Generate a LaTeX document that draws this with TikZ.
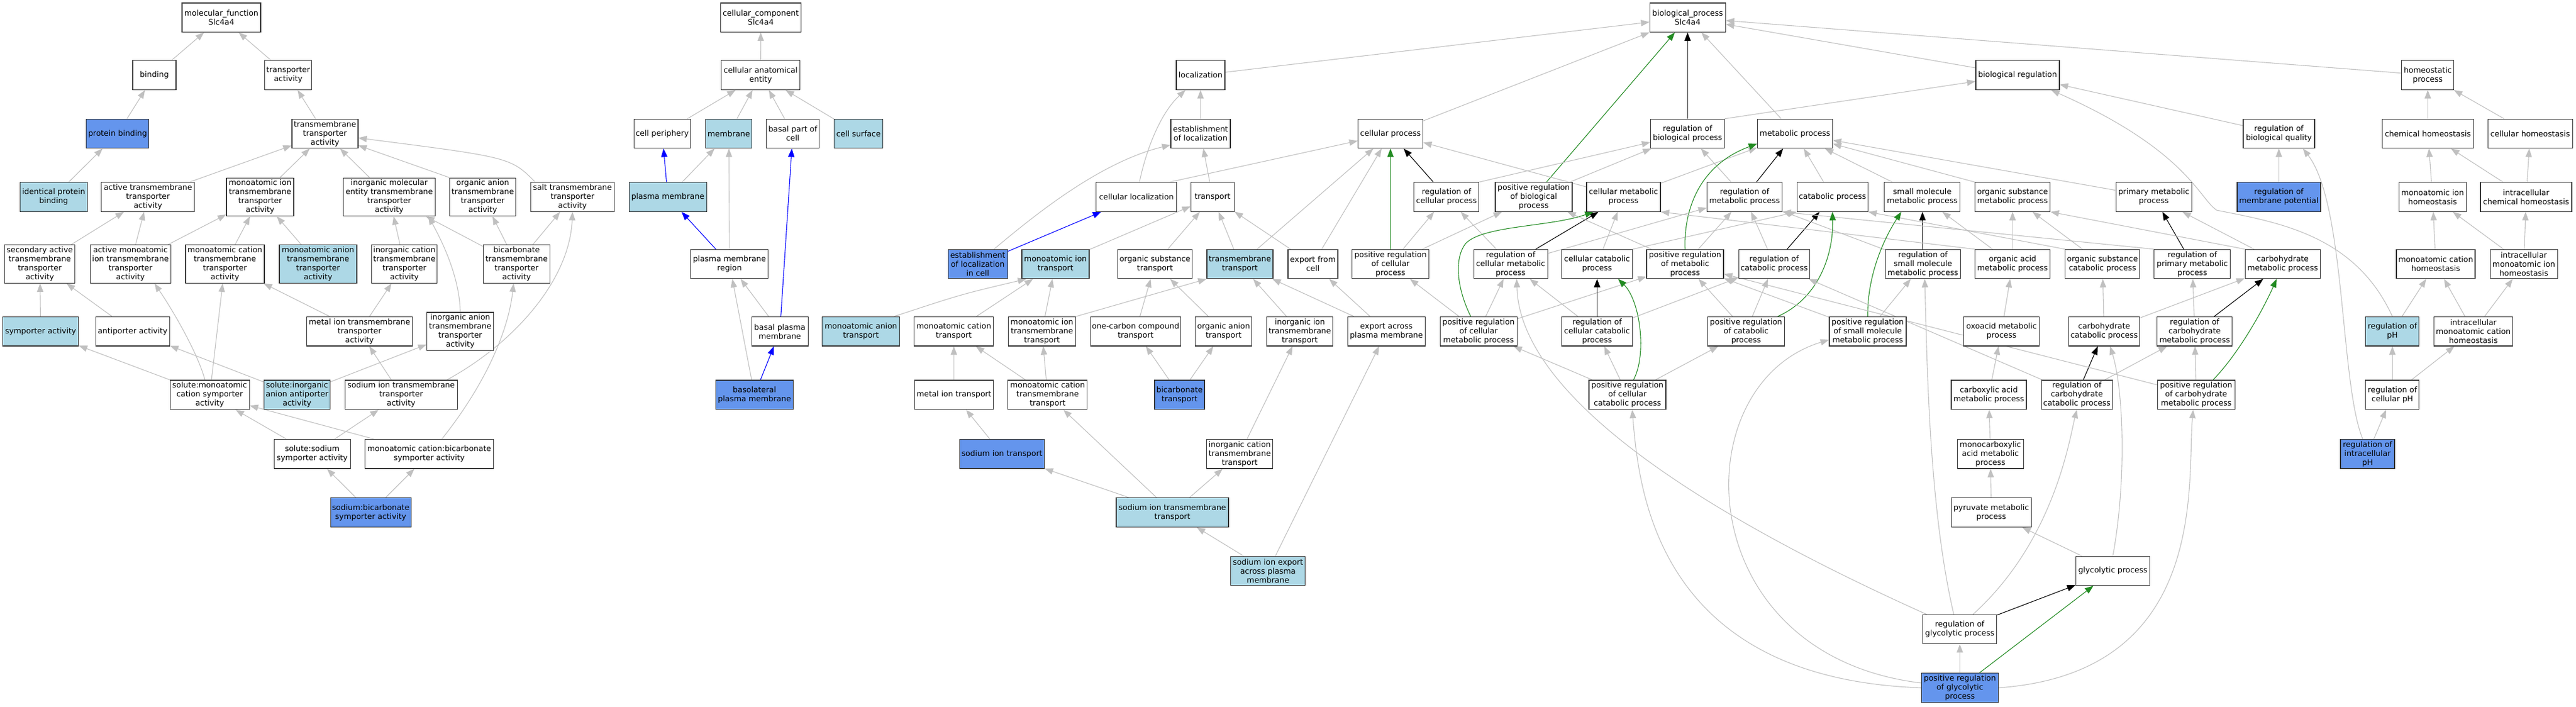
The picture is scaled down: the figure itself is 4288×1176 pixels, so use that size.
\documentclass[tikz,border=0pt]{standalone}
\usepackage{fontspec}
\setmainfont{DejaVu Sans}
\usetikzlibrary{arrows.meta,backgrounds,calc}
\definecolor{lblue}{HTML}{ADD8E6}
\definecolor{cblue}{HTML}{6495ED}
\definecolor{egray}{HTML}{C0C0C0}
\definecolor{fgreen}{HTML}{228B22}
\begin{document}
\begin{tikzpicture}[x=1pt,y=-1pt,
 gbox/.style={draw=black!80, line width=1.2pt, fill=white, minimum height=48.5pt, inner xsep=1.5pt, inner ysep=3pt, align=center, font=\fontsize{12.9}{15}\selectfont},
 gboxl/.style={gbox, fill=lblue},
 gboxc/.style={gbox, fill=cblue},
 gedge/.style={draw=egray, line width=1.1pt, -{Triangle[length=14pt,width=10.5pt]}},
 kedge/.style={gedge, draw=black},
 bedge/.style={gedge, draw=blue},
 fedge/.style={gedge, draw=fgreen}]
\useasboundingbox (0,0) rectangle (4288,1176);
% ---------------- molecular function ----------------
\node[gbox,minimum width=131] (mf) at (368.5,29.3) {molecular\_function\\Slc4a4};
\node[gbox,minimum width=72] (binding) at (256.9,125.1) {binding};
\node[gbox,minimum width=78] (ta) at (479.8,125.1) {transporter\\activity};
\node[gboxc,minimum width=104] (pb) at (195.8,222.5) {protein binding};
\node[gbox,minimum width=110] (tmta) at (540.9,222.5) {transmembrane\\transporter\\activity};
\node[gboxl,minimum width=112] (ipb) at (89.3,327.9) {identical protein\\binding};
\node[gbox,minimum width=155] (atmta) at (246.3,327.9) {active transmembrane\\transporter\\activity};
\node[gbox,minimum width=112] (mitmta) at (433,327.9) {monoatomic ion\\transmembrane\\transporter\\activity};
\node[gbox,minimum width=153] (imetmta) at (647.9,327.9) {inorganic molecular\\entity transmembrane\\transporter\\activity};
\node[gbox,minimum width=110] (oatmta) at (803.6,327.9) {organic anion\\transmembrane\\transporter\\activity};
\node[gbox,minimum width=139] (salt) at (953,327.9) {salt transmembrane\\transporter\\activity};
\node[gbox,minimum width=117] (sec) at (66.3,439.6) {secondary active\\transmembrane\\transporter\\activity};
\node[gbox,minimum width=134] (ami) at (217.2,439.6) {active monoatomic\\ion transmembrane\\transporter\\activity};
\node[gbox,minimum width=131] (mctmta) at (374.4,439.6) {monoatomic cation\\transmembrane\\transporter\\activity};
\node[gboxl,minimum width=129] (matmta) at (529.4,439.6) {monoatomic anion\\transmembrane\\transporter\\activity};
\node[gbox,minimum width=109] (ictmta) at (673.2,439.6) {inorganic cation\\transmembrane\\transporter\\activity};
\node[gbox,minimum width=111] (bictmta) at (859.9,439.6) {bicarbonate\\transmembrane\\transporter\\activity};
\node[gboxl,minimum width=126] (sym) at (67.7,551.7) {symporter activity};
\node[gbox,minimum width=123] (anti) at (220.8,551.7) {antiporter activity};
\node[gbox,minimum width=176] (metaltmta) at (598.5,551.7) {metal ion transmembrane\\transporter\\activity};
\node[gbox,minimum width=111] (iatmta) at (766.1,551.7) {inorganic anion\\transmembrane\\transporter\\activity};
\node[gbox,minimum width=132] (smcs) at (349.1,657.3) {solute:monoatomic\\cation symporter\\activity};
\node[gboxl,minimum width=110] (siaa) at (494.5,657.3) {solute:inorganic\\anion antiporter\\activity};
\node[gbox,minimum width=187] (sitmta) at (667.7,657.3) {sodium ion transmembrane\\transporter\\activity};
\node[gbox,minimum width=127] (sss) at (519.7,755.7) {solute:sodium\\symporter activity};
\node[gbox,minimum width=214] (mcbs) at (714.5,755.7) {monoatomic cation:bicarbonate\\symporter activity};
\node[gboxc,minimum width=134] (sbs) at (617.1,853.1) {sodium:bicarbonate\\symporter activity};
% ---------------- cellular component ----------------
\node[gbox,minimum width=134] (cc) at (1266.4,29.3) {cellular\_component\\Slc4a4};
\node[gbox,minimum width=131] (cae) at (1266.2,125.1) {cellular anatomical\\entity};
\node[gbox,minimum width=94] (cper) at (1102.3,222.5) {cell periphery};
\node[gboxl,minimum width=77] (memb) at (1213.2,222.5) {membrane};
\node[gbox,minimum width=88] (bpc) at (1319.7,222.5) {basal part of\\cell};
\node[gboxl,minimum width=81] (csurf) at (1429,222.5) {cell surface};
\node[gboxl,minimum width=129] (pm) at (1111.7,327.9) {plasma membrane};
\node[gbox,minimum width=129] (pmr) at (1214.3,439.6) {plasma membrane\\region};
\node[gbox,minimum width=94] (bpm) at (1298.1,551.7) {basal plasma\\membrane};
\node[gboxc,minimum width=129] (blpm) at (1255.9,657.3) {basolateral\\plasma membrane};
% ---------------- biological process ----------------
\node[gbox,minimum width=126] (bp) at (2809.2,29.3) {biological\_process\\Slc4a4};
\node[gbox,minimum width=81] (loc) at (1998.4,125.1) {localization};
\node[gbox,minimum width=139] (breg) at (3358.4,125.1) {biological regulation};
\node[gbox,minimum width=87] (homeo) at (4041.2,125.1) {homeostatic\\process};
\node[gbox,minimum width=99] (estloc) at (1998.4,222.5) {establishment\\of localization};
\node[gbox,minimum width=108] (cproc) at (2314.6,222.5) {cellular process};
\node[gbox,minimum width=123] (rbp) at (2809,222.5) {regulation of\\biological process};
\node[gbox,minimum width=125] (metab) at (2987.9,222.5) {metabolic process};
\node[gbox,minimum width=119] (rbq) at (3793.4,222.5) {regulation of\\biological quality};
\node[gbox,minimum width=152] (chomeo) at (4041.4,222.5) {chemical homeostasis};
\node[gbox,minimum width=141] (cellhomeo) at (4211.7,222.5) {cellular homeostasis};
\node[gbox,minimum width=134] (cloc) at (1891.7,327.9) {cellular localization};
\node[gbox,minimum width=72] (transp) at (2018.4,327.9) {transport};
\node[gbox,minimum width=108] (rcp) at (2407.8,327.9) {regulation of\\cellular process};
\node[gbox,minimum width=128] (prbp) at (2553,327.9) {positive regulation\\of biological\\process};
\node[gbox,minimum width=123] (cmp) at (2702.4,327.9) {cellular metabolic\\process};
\node[gbox,minimum width=125] (rmp) at (2904,327.9) {regulation of\\metabolic process};
\node[gbox,minimum width=118] (catab) at (3050.3,327.9) {catabolic process};
\node[gbox,minimum width=126] (smmp) at (3199.8,327.9) {small molecule\\metabolic process};
\node[gbox,minimum width=125] (osmp) at (3350.1,327.9) {organic substance\\metabolic process};
\node[gbox,minimum width=126] (pmp) at (3585.2,327.9) {primary metabolic\\process};
\node[gboxc,minimum width=139] (rmpot) at (3793.4,327.9) {regulation of\\membrane potential};
\node[gbox,minimum width=112] (mih) at (4049.2,327.9) {monoatomic ion\\homeostasis};
\node[gbox,minimum width=152] (ich) at (4205,327.9) {intracellular\\chemical homeostasis};
\node[gboxc,minimum width=99] (elic) at (1627.6,439.6) {establishment\\of localization\\in cell};
\node[gboxl,minimum width=112] (mit) at (1756.9,439.6) {monoatomic ion\\transport};
\node[gbox,minimum width=124] (ost) at (1922.5,439.6) {organic substance\\transport};
\node[gboxl,minimum width=110] (tmt) at (2063.9,439.6) {transmembrane\\transport};
\node[gbox,minimum width=83] (efc) at (2185.4,439.6) {export from\\cell};
\node[gbox,minimum width=128] (prcp) at (2314.6,439.6) {positive regulation\\of cellular\\process};
\node[gbox,minimum width=123] (rcmp) at (2514.6,439.6) {regulation of\\cellular metabolic\\process};
\node[gbox,minimum width=118] (ccp) at (2658.5,439.6) {cellular catabolic\\process};
\node[gbox,minimum width=128] (prmp) at (2805,439.6) {positive regulation\\of metabolic\\process};
\node[gbox,minimum width=118] (rcatab) at (2953.2,439.6) {regulation of\\catabolic process};
\node[gbox,minimum width=125] (rsmmp) at (3200.9,439.6) {regulation of\\small molecule\\metabolic process};
\node[gbox,minimum width=125] (oamp) at (3350.1,439.6) {organic acid\\metabolic process};
\node[gbox,minimum width=124] (oscp) at (3499.7,439.6) {organic substance\\catabolic process};
\node[gbox,minimum width=127] (rprmp) at (3649.3,439.6) {regulation of\\primary metabolic\\process};
\node[gbox,minimum width=125] (cmpr) at (3799.7,439.6) {carbohydrate\\metabolic process};
\node[gbox,minimum width=131] (mch) at (4054.5,439.6) {monoatomic cation\\homeostasis};
\node[gbox,minimum width=112] (imih) at (4201.1,439.6) {intracellular\\monoatomic ion\\homeostasis};
\node[gboxl,minimum width=129] (mat) at (1433.1,551.7) {monoatomic anion\\transport};
\node[gbox,minimum width=132] (mct) at (1587.7,551.7) {monoatomic cation\\transport};
\node[gbox,minimum width=112] (mitt) at (1734.4,551.7) {monoatomic ion\\transmembrane\\transport};
\node[gbox,minimum width=150] (occt) at (1890.3,551.7) {one-carbon compound\\transport};
\node[gbox,minimum width=94] (oat) at (2036.8,551.7) {organic anion\\transport};
\node[gbox,minimum width=110] (iitt) at (2163.7,551.7) {inorganic ion\\transmembrane\\transport};
\node[gbox,minimum width=129] (eapm) at (2307.8,551.7) {export across\\plasma membrane};
\node[gbox,minimum width=128] (prcmp) at (2461.2,551.7) {positive regulation\\of cellular\\metabolic process};
\node[gbox,minimum width=118] (rccp) at (2658.5,551.7) {regulation of\\cellular catabolic\\process};
\node[gbox,minimum width=128] (prcatab) at (2906.5,551.7) {positive regulation\\of catabolic\\process};
\node[gbox,minimum width=128] (prsmmp) at (3109,551.7) {positive regulation\\of small molecule\\metabolic process};
\node[gbox,minimum width=126] (oxo) at (3331.7,551.7) {oxoacid metabolic\\process};
\node[gbox,minimum width=118] (ccatab) at (3502.5,551.7) {carbohydrate\\catabolic process};
\node[gbox,minimum width=125] (rcarbmp) at (3653.2,551.7) {regulation of\\carbohydrate\\metabolic process};
\node[gboxl,minimum width=89] (rph) at (3982.3,551.7) {regulation of\\pH};
\node[gbox,minimum width=131] (imch) at (4117.1,551.7) {intracellular\\monoatomic cation\\homeostasis};
\node[gbox,minimum width=131] (mitr) at (1588,657.3) {metal ion transport};
\node[gbox,minimum width=132] (mctt) at (1743.8,657.3) {monoatomic cation\\transmembrane\\transport};
\node[gboxc,minimum width=83] (bict) at (1963.5,657.3) {bicarbonate\\transport};
\node[gbox,minimum width=128] (prccp) at (2709,657.3) {positive regulation\\of cellular\\catabolic process};
\node[gbox,minimum width=125] (cxa) at (3310.5,657.3) {carboxylic acid\\metabolic process};
\node[gbox,minimum width=118] (rccatab) at (3457.1,657.3) {regulation of\\carbohydrate\\catabolic process};
\node[gbox,minimum width=129] (prcarbmp) at (3655.7,657.3) {positive regulation\\of carbohydrate\\metabolic process};
\node[gbox,minimum width=89] (rcph) at (3982.3,657.3) {regulation of\\cellular pH};
\node[gboxc,minimum width=141] (sit) at (1667.8,755.7) {sodium ion transport};
\node[gbox,minimum width=110] (ictt) at (2063.6,755.7) {inorganic cation\\transmembrane\\transport};
\node[gbox,minimum width=110] (mca) at (3313.2,755.7) {monocarboxylic\\acid metabolic\\process};
\node[gboxc,minimum width=90] (ripH) at (3941,755.7) {regulation of\\intracellular\\pH};
\node[gboxl,minimum width=187] (sitt) at (1951.5,853.1) {sodium ion transmembrane\\transport};
\node[gbox,minimum width=133] (pyr) at (3314.6,853.1) {pyruvate metabolic\\process};
\node[gboxl,minimum width=124] (siex) at (2110.7,950.4) {sodium ion export\\across plasma\\membrane};
\node[gbox,minimum width=123] (glyc) at (3517,950.4) {glycolytic process};
\node[gbox,minimum width=123] (rglyc) at (3262.2,1047.6) {regulation of\\glycolytic process};
\node[gboxc,minimum width=128] (prglyc) at (3262.4,1145) {positive regulation\\of glycolytic\\process};
% ---------------- edges ----------------
\begin{pgfonlayer}{background}
\fill[white] (0,0) rectangle (4288,1176);
% MF
\draw[gedge] (binding) -- (mf);
\draw[gedge] (ta) -- (mf);
\draw[gedge] (pb) -- (binding);
\draw[gedge] (ipb) -- (pb);
\draw[gedge] (tmta) -- (ta);
\draw[gedge] (atmta) -- (tmta);
\draw[gedge] (mitmta) -- (tmta);
\draw[gedge] (imetmta) -- (tmta);
\draw[gedge] (oatmta.north west) -- (tmta);
\draw[gedge] ($(salt.north west)+(8,0)$) .. controls (850,262) .. (tmta);
\draw[gedge] (sec) -- (atmta);
\draw[gedge] (ami) -- (atmta);
\draw[gedge] (ami) -- (mitmta);
\draw[gedge] (mctmta) -- (mitmta);
\draw[gedge] (matmta) -- (mitmta);
\draw[gedge] (ictmta) -- (imetmta);
\draw[gedge] (bictmta) -- (imetmta);
\draw[gedge] (iatmta.north) .. controls (765,460) and (735,400) .. ($(imetmta.south east)+(-12,0)$);
\draw[gedge] (bictmta) -- (oatmta);
\draw[gedge] (bictmta) -- (salt);
\draw[gedge] (sym) -- (sec);
\draw[gedge] (anti) -- (sec);
\draw[gedge] (metaltmta) -- (mctmta);
\draw[gedge] (metaltmta) -- (ictmta);
\draw[gedge] (smcs) -- (sym);
\draw[gedge] ($(smcs.north)+(-8,0)$) .. controls (330,590) and (290,520) .. ($(ami.south)+(40,0)$);
\draw[gedge] (smcs) -- (mctmta);
\draw[gedge] (siaa) -- (anti);
\draw[gedge] (siaa) -- (iatmta);
\draw[gedge] (sitmta) -- (metaltmta);
\draw[gedge] ($(sitmta.north east)+(-18,0)$) .. controls (850,575) and (948,470) .. (salt.south);
\draw[gedge] (sss) -- (smcs);
\draw[gedge] (sss) -- (sitmta);
\draw[gedge] (mcbs) -- (smcs);
\draw[gedge] ($(mcbs.north)+(21,0)$) .. controls (800,650) and (845,560) .. ($(bictmta.south)+(-5,0)$);
\draw[gedge] (sbs) -- (sss);
\draw[gedge] (sbs) -- (mcbs);
% CC
\draw[gedge] (cae) -- (cc);
\draw[gedge] (cper) -- (cae);
\draw[gedge] (memb) -- (cae);
\draw[gedge] (bpc) -- (cae);
\draw[gedge] (csurf) -- (cae);
\draw[bedge] (pm) -- (cper);
\draw[gedge] (pm) -- (memb);
\draw[bedge] (pmr) -- (pm);
\draw[gedge] (pmr) -- (memb);
\draw[gedge] (bpm) -- (pmr);
\draw[bedge] (bpm) -- (bpc);
\draw[gedge] (blpm) -- (pmr);
\draw[bedge] (blpm) -- (bpm);
% BP
\draw[gedge] (loc) -- (bp);
\draw[gedge] (cproc) -- (bp);
\draw[kedge] (rbp) -- (bp);
\draw[fedge] (prbp) -- (bp);
\draw[gedge] (metab) -- (bp);
\draw[gedge] (breg) -- (bp);
\draw[gedge] (homeo) -- (bp);
\draw[gedge] (estloc) -- (loc);
\draw[gedge] ($(cloc.north)+(5,0)$) .. controls (1910,240) and (1935,185) .. ($(loc.south west)+(16,0)$);
\draw[gedge] (transp) -- (estloc);
\draw[gedge] ($(elic.north)+(27,0)$) .. controls (1720,360) and (1830,270) .. ($(estloc.south west)+(0,-6)$);
\draw[bedge] (elic) -- (cloc);
\draw[gedge] ($(cloc.north east)+(-12,0)$) -- (cproc);
\draw[gedge] (mit) -- (transp);
\draw[gedge] (ost) -- (transp);
\draw[gedge] (tmt) -- (transp);
\draw[gedge] (efc) -- (transp);
\draw[gedge] (tmt) -- (cproc);
\draw[gedge] (efc) -- (cproc);
\draw[gedge] ($(mat.north east)+(-10,0)$) .. controls (1600,490) .. ($(mit.south west)+(8,0)$);
\draw[gedge] (mct) -- (mit);
\draw[gedge] (mitt) -- (mit);
\draw[gedge] (mitt.north east) -- (tmt.south west);
\draw[gedge] (occt) -- (ost);
\draw[gedge] (oat) -- (ost);
\draw[gedge] (iitt) -- (tmt);
\draw[gedge] (eapm) -- (tmt);
\draw[gedge] (eapm) -- (efc);
\draw[gedge] (mitr) -- (mct);
\draw[gedge] (mctt) -- (mct);
\draw[gedge] (mctt) -- (mitt);
\draw[gedge] (bict) -- (occt);
\draw[gedge] (bict) -- (oat);
\draw[gedge] (ictt) -- (iitt);
\draw[gedge] (sit) -- (mitr);
\draw[gedge] (sitt) -- (sit);
\draw[gedge] (sitt) -- (mctt);
\draw[gedge] (sitt) -- (ictt);
\draw[gedge] (siex) -- (sitt);
\draw[gedge] (siex) -- (eapm);
\draw[gedge] (rbp.north east) -- (breg);
\draw[gedge] (rcp.north east) -- (rbp);
\draw[kedge] (rcp) -- (cproc);
\draw[gedge] (prbp) -- (rbp);
\draw[fedge] (prcp) -- (cproc);
\draw[gedge] (prcp) -- (rcp);
\draw[gedge] (prcp) -- (prbp);
\draw[gedge] (cmp) -- (cproc);
\draw[gedge] (cmp) -- (metab);
\draw[kedge] (rcmp) -- (cmp);
\draw[gedge] (rcmp) -- (rcp);
\draw[gedge] (rcmp) -- (rmp);
\draw[gedge] (rmp) -- (rbp);
\draw[kedge] (rmp) -- (metab);
\draw[fedge] ($(prcmp.north)+(-13,0)$) .. controls (2425,480) and (2420,430) .. (2440,405) .. controls (2470,375) and (2580,378) .. ($(cmp.south west)+(12,0)$);
\draw[gedge] (prcmp) -- (rcmp);
\draw[gedge] (prcmp) -- (prcp);
\draw[gedge] (prcmp) -- (prmp);
\draw[gedge] (ccp) -- (cmp);
\draw[gedge] (ccp.north east) -- (catab.south west);
\draw[kedge] (rccp) -- (ccp);
\draw[gedge] (rccp) -- (rcmp);
\draw[gedge] (rccp) -- (rcatab);
\draw[fedge] ($(prccp.north)+(10,0)$) .. controls (2742,590) and (2730,500) .. ($(ccp.south)+(35,0)$);
\draw[gedge] (prccp) -- (rccp);
\draw[gedge] (prccp) -- (prcmp);
\draw[gedge] (prccp) -- (prcatab);
\draw[fedge] (prmp.north) .. controls (2803,370) and (2815,280) .. ($(metab.south west)+(0,-8)$);
\draw[gedge] (prmp) -- (rmp);
\draw[gedge] (prmp) -- (prbp);
\draw[gedge] (catab) -- (metab);
\draw[gedge] (smmp) -- (metab);
\draw[gedge] (osmp.north west) -- (metab);
\draw[gedge] (pmp) -- (metab);
\draw[gedge] (rcatab) -- (rmp);
\draw[kedge] (rcatab) -- (catab);
\draw[gedge] (rsmmp) -- (rmp);
\draw[kedge] (rsmmp) -- (smmp);
\draw[gedge] (oamp) -- (smmp);
\draw[gedge] (oamp) -- (osmp);
\draw[gedge] (oamp.north west) -- (cmp.south east);
\draw[gedge] (oscp) -- (osmp);
\draw[gedge] (oscp.north west) -- (catab.south east);
\draw[kedge] (rprmp) -- (pmp);
\draw[gedge] (rprmp.north west) -- (rmp.south east);
\draw[gedge] (cmpr) -- (pmp);
\draw[gedge] (cmpr.north west) -- (osmp.south east);
\draw[fedge] ($(prcatab.north east)+(-12,0)$) .. controls (3030,495) and (3052,420) .. (catab.south);
\draw[gedge] (prcatab) -- (rcatab);
\draw[gedge] (prcatab) -- (prmp);
\draw[fedge] (prsmmp.north) .. controls (3108,470) and (3128,410) .. ($(smmp.south)+(-35,0)$);
\draw[gedge] (prsmmp) -- (rsmmp);
\draw[gedge] (prsmmp) -- (prmp);
\draw[gedge] (oxo) -- (oamp);
\draw[gedge] (ccatab) -- (oscp);
\draw[gedge] (ccatab) -- (cmpr);
\draw[kedge] (rcarbmp) -- (cmpr);
\draw[gedge] (rcarbmp) -- (rprmp);
\draw[gedge] (cxa) -- (oxo);
\draw[kedge] (rccatab) -- (ccatab);
\draw[gedge] (rccatab) -- (rcarbmp);
\draw[gedge] (rccatab) -- (rcatab);
\draw[fedge] ($(prcarbmp.north east)+(-37,0)$) .. controls (3725,590) and (3765,520) .. ($(cmpr.south)+(-10,0)$);
\draw[gedge] (prcarbmp) -- (rcarbmp);
\draw[gedge] (prcarbmp) -- (prmp);
\draw[gedge] (mca) -- (cxa);
\draw[gedge] (pyr) -- (mca);
\draw[gedge] (glyc) -- (pyr);
\draw[gedge] (glyc.north) .. controls (3540,800) and (3535,650) .. ($(ccatab.south)+(10,0)$);
\draw[kedge] (rglyc) -- (glyc);
\draw[gedge] ($(rglyc.north)+(22,0)$) .. controls (3420,900) and (3445,730) .. (rccatab.south);
\draw[gedge] ($(rglyc.north)+(-10,0)$) .. controls (3212,850) and (3208,620) .. ($(rsmmp.south)+(3,0)$);
\draw[gedge] (rglyc) .. controls (2800,840) and (2530,650) .. ($(rcmp.south)+(10,0)$);
\draw[fedge] (prglyc) -- (glyc);
\draw[gedge] (prglyc) -- (rglyc);
\draw[gedge] (prglyc.east) .. controls (3680,1120) and (3640,800) .. ($(prcarbmp.south)+(-5,0)$);
\draw[gedge] (prglyc.west) .. controls (2760,1130) and (2728,820) .. ($(prccp.south)+(8,0)$);
\draw[gedge] ($(prglyc.west)+(0,-8)$) .. controls (2810,1090) and (2800,640) .. ($(prsmmp.west)+(0,14)$);
\draw[gedge] (rbq) -- (breg);
\draw[gedge] (rmpot) -- (rbq);
\draw[gedge] ($(ripH.north)+(-8,0)$) .. controls (3895,640) and (3905,340) .. ($(rbq.south east)+(-20,0)$);
\draw[gedge] (ripH) -- (rcph);
\draw[gedge] (rcph) -- (rph);
\draw[gedge] (rcph) -- (imch);
\draw[gedge] (rph.north) .. controls (3920,390) and (3790,370) .. (3690,350) .. controls (3660,330) and (3640,250) .. (breg);
\draw[gedge] (rph) -- (mch);
\draw[gedge] (chomeo) -- (homeo);
\draw[gedge] (cellhomeo) -- (homeo);
\draw[gedge] (mih) -- (chomeo);
\draw[gedge] (ich) -- (chomeo);
\draw[gedge] (ich) -- (cellhomeo);
\draw[gedge] (mch) -- (mih);
\draw[gedge] (imih) -- (mih);
\draw[gedge] (imih) -- (ich);
\draw[gedge] (imch) -- (mch);
\draw[gedge] (imch) -- (imih);
\end{pgfonlayer}
\end{tikzpicture}
\end{document}
